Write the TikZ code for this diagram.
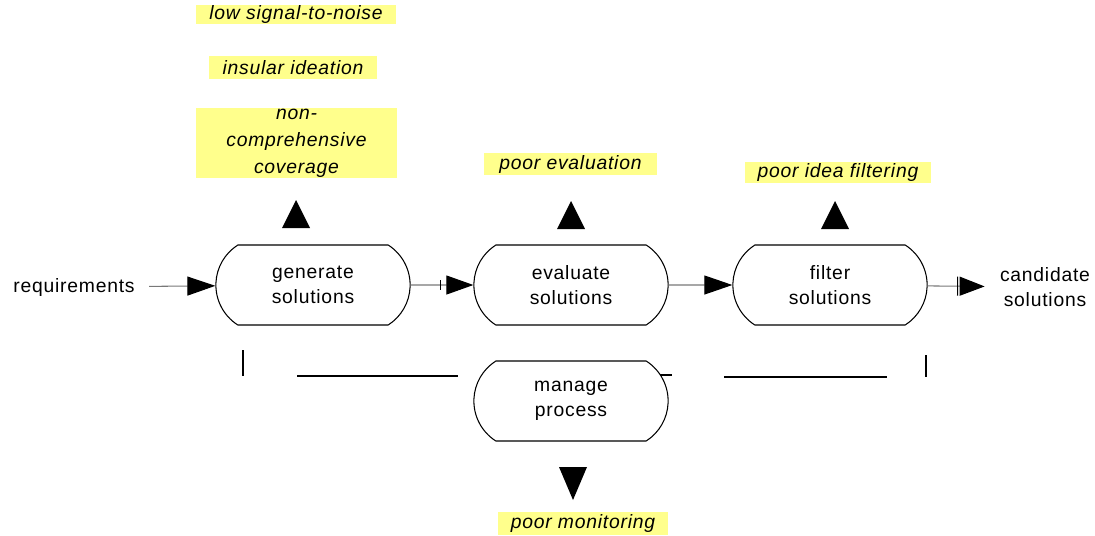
\documentclass[tikz,border=0pt]{standalone}
\usepackage{fontspec}
\setmainfont[LetterSpace=4]{Liberation Sans}
\usetikzlibrary{arrows.meta, shapes.misc}
\definecolor{hilite}{RGB}{255,255,140}
\definecolor{wire}{RGB}{120,120,120}

\begin{document}
\begin{tikzpicture}[x=0.02cm, y=-0.02cm, line width=0.6pt,
	proc/.style={draw, rounded rectangle, rounded rectangle arc length=115, minimum width=4.12cm, minimum height=1.6cm, align=center, font=\fontsize{11}{14}\selectfont},
	plain/.style={align=center, font=\fontsize{11}{14}\selectfont},
	issue/.style={fill=hilite, inner sep=0pt, align=center, font=\fontsize{11}{15.3}\selectfont\itshape},
	flow/.style={draw=wire, -{Triangle[length=5.6mm, width=3.8mm, black]}},
	barflow/.style={draw=wire, -{Bar[width=2mm, black, sep=1mm] Triangle[length=5.4mm, width=3.8mm, black]}},
	capflow/.style={draw=wire, -{Bar[width=3.8mm, black, sep=0.3mm] Triangle[length=5mm, width=3.8mm, black]}},
	uptri/.pic={\fill (-14,14) -- (14,14) -- (0,-14) -- cycle;},
	downtri/.pic={\fill (-14,-16) -- (14,-16) -- (0,17) -- cycle;}]
	\useasboundingbox (0,0) rectangle (1095,535);
	\clip (0,0) rectangle (1095,535);

	% process boxes
	\node (gen) [proc] at (313,285) {generate\\solutions};
	\node (eval) [proc] at (571,285) {evaluate\\solutions};
	\node (filt) [proc] at (830,285) {filter\\solutions};
	\node (mgr) [proc] at (571,401) {manage\\process};

	\node (req) [plain, inner sep=8pt] at (74,287) {requirements};
	\node (cand) [plain] at (1045,287) {candidate\\solutions};

	\draw[flow] (req) -- (gen);
	\draw[barflow] (gen) -- (eval);
	\draw[flow] (eval) -- (filt);
	\draw[capflow, shorten >=0.18cm] (filt) -- (cand);

	% problems
	\node (noise) [issue, minimum width=4cm, minimum height=0.38cm] at (296,14.5) {low signal-to-noise};
	\node (insul) [issue, minimum width=3.36cm, minimum height=0.46cm] at (293,67.5) {insular ideation};
	\node (cover) [issue, text width=4.02cm, minimum height=1.4cm] at (296.5,143) {non-\\comprehensive\\coverage};
	\node (peval) [issue, minimum width=3.46cm, minimum height=0.44cm] at (570.5,164) {poor evaluation};
	\node (pfilt) [issue, minimum width=3.72cm, minimum height=0.42cm] at (838,172.5) {poor idea filtering};
	\node (pmon) [issue, minimum width=3.42cm, minimum height=0.46cm] at (583,523.5) {poor monitoring};

	\pic (tgen) at (296,214) {uptri};
	\pic (teval) at (571,215) {uptri};
	\pic (tfilt) at (835,215) {uptri};
	\pic (tmgr) at (573,483) {downtri};

	% control lines
	\coordinate (c1) at (243,350);
	\coordinate (c2) at (243,376);
	\coordinate (c3) at (297,376);
	\coordinate (c4) at (458,376);
	\coordinate (c5) at (660,375);
	\coordinate (c6) at (672,375);
	\coordinate (c7) at (724,377);
	\coordinate (c8) at (887,377);
	\coordinate (c9) at (926,355);
	\coordinate (c10) at (926,377);
	\draw (c1) -- (c2);
	\draw (c3) -- (c4);
	\draw (c5) -- (c6);
	\draw (c7) -- (c8);
	\draw (c9) -- (c10);
\end{tikzpicture}
\end{document}
